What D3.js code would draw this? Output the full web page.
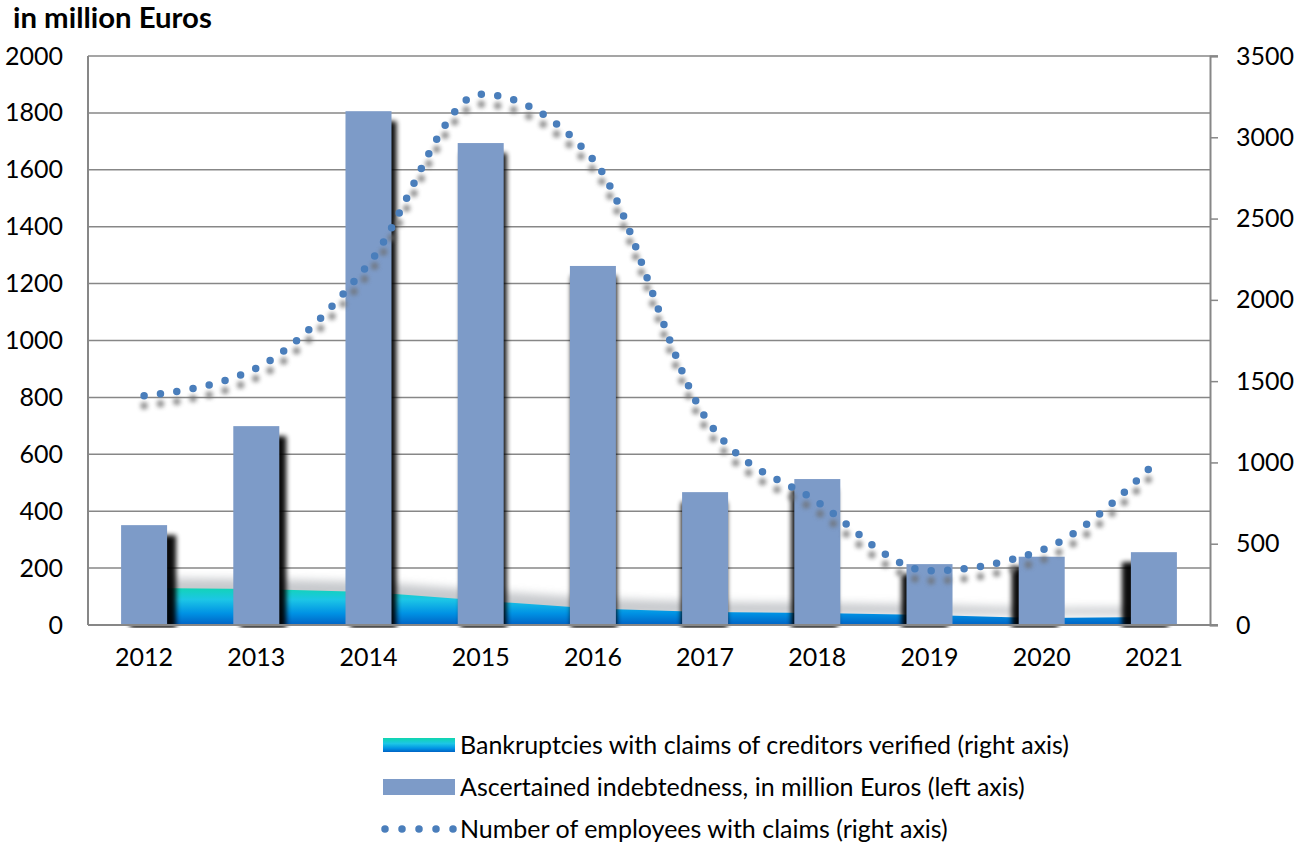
<!DOCTYPE html>
<html>
<head>
<meta charset="utf-8">
<script src="https://cdn.jsdelivr.net/npm/d3@7"></script>
<style>
  body { margin: 0; background: #fff; }
  text { font-family: Lato, "Open Sans", sans-serif; fill: #000; }
</style>
</head>
<body>
<div id="chart"></div>
<script>
// donnees du graphique
var years = ["2012", "2013", "2014", "2015", "2016", "2017", "2018", "2019", "2020", "2021"];
// dette constatee, en millions d'euros (axe gauche)
var indebtedness = [351, 699, 1806, 1694, 1262, 467, 513, 214, 240, 256];
// faillites avec creances verifiees (axe droit)
var bankruptcies = [228, 221, 203, 150, 101, 80, 74, 61, 43, 49];
// nombre de salaries avec creances (axe droit)
var employees = [1410, 1580, 2220, 3265, 2865, 1280, 758, 334, 461, 990];

var leftTicks = [0, 200, 400, 600, 800, 1000, 1200, 1400, 1600, 1800, 2000];
var rightTicks = [0, 500, 1000, 1500, 2000, 2500, 3000, 3500];

var legendLabels = [
  "Bankruptcies with claims of creditors verified (right axis)",
  "Ascertained indebtedness, in million Euros (left axis)",
  "Number of employees with claims (right axis)"
];

function draw(boxName)
{
  var width = 1304,
      height = 849;
  var left = 88, right = 1210, top = 56, bottom = 625;

  var svg = d3.select(boxName)
    .append("svg")
    .attr("width", width)
    .attr("height", height);

  var defs = svg.append("defs");

  // degrade de l'aire
  var grad = defs.append("linearGradient")
    .attr("id", "areaGrad")
    .attr("gradientUnits", "userSpaceOnUse")
    .attr("x1", 0).attr("x2", 0)
    .attr("y1", 586).attr("y2", bottom);
  grad.append("stop").attr("offset", "0%").attr("stop-color", "#10d6ae");
  grad.append("stop").attr("offset", "35%").attr("stop-color", "#1cc6e6");
  grad.append("stop").attr("offset", "70%").attr("stop-color", "#0092e4");
  grad.append("stop").attr("offset", "100%").attr("stop-color", "#0062c4");

  var lgGrad = defs.append("linearGradient")
    .attr("id", "legendGrad")
    .attr("x1", 0).attr("x2", 0).attr("y1", 0).attr("y2", 1);
  lgGrad.append("stop").attr("offset", "0%").attr("stop-color", "#10d6ae");
  lgGrad.append("stop").attr("offset", "40%").attr("stop-color", "#1cc6e6");
  lgGrad.append("stop").attr("offset", "75%").attr("stop-color", "#0092e4");
  lgGrad.append("stop").attr("offset", "100%").attr("stop-color", "#0062c4");

  defs.append("filter").attr("id", "blurBar")
    .attr("x", "-50%").attr("y", "-10%").attr("width", "200%").attr("height", "120%")
    .append("feGaussianBlur").attr("stdDeviation", 2.5);
  defs.append("filter").attr("id", "blurArea")
    .attr("x", "-10%").attr("y", "-50%").attr("width", "120%").attr("height", "200%")
    .append("feGaussianBlur").attr("stdDeviation", 4);
  defs.append("filter").attr("id", "blurLine")
    .attr("x", "-10%").attr("y", "-10%").attr("width", "120%").attr("height", "120%")
    .append("feGaussianBlur").attr("stdDeviation", 2);

  defs.append("clipPath").attr("id", "plotClip")
    .append("rect")
    .attr("x", left).attr("y", top)
    .attr("width", right - left).attr("height", bottom - top + 3);

  // echelles
  var x = d3.scaleBand()
    .domain(years)
    .range([left, right])
    .paddingInner(0.59)
    .paddingOuter(0.295);
  var cx = function(d) { return x(d) + x.bandwidth() / 2; };

  var yL = d3.scaleLinear().domain([0, 2000]).range([bottom, top]);
  var yR = d3.scaleLinear().domain([0, 3500]).range([bottom, top]);

  // lignes de grille
  svg.append("g")
    .selectAll("line")
    .data(leftTicks)
    .enter().append("line")
    .attr("x1", left)
    .attr("x2", function(d) { return d === 2000 ? right + 8 : right; })
    .attr("y1", function(d) { return yL(d); })
    .attr("y2", function(d) { return yL(d); })
    .attr("stroke", "#878787")
    .attr("stroke-width", 1.5);

  // aire des faillites
  var area = d3.area()
    .x(function(d, i) { return cx(years[i]); })
    .y0(bottom)
    .y1(function(d) { return yR(d); });

  var plot = svg.append("g").attr("clip-path", "url(#plotClip)");

  plot.append("path")
    .datum(bankruptcies)
    .attr("d", area)
    .attr("transform", "translate(8,-10)")
    .attr("fill", "#9a9ea4")
    .attr("opacity", 0.55)
    .attr("filter", "url(#blurArea)");

  plot.append("path")
    .datum(bankruptcies)
    .attr("d", area)
    .attr("fill", "url(#areaGrad)");

  // ombres des barres
  plot.append("g")
    .selectAll("rect")
    .data(indebtedness)
    .enter().append("rect")
    .attr("x", function(d, i) { return x(years[i]) + (4.5 - i) * 2; })
    .attr("y", function(d) { return yL(d) + 10; })
    .attr("width", x.bandwidth())
    .attr("height", function(d) { return bottom + 3 - yL(d) - 10; })
    .attr("fill", "#000")
    .attr("opacity", 0.95)
    .attr("filter", "url(#blurBar)");

  // barres
  svg.append("g")
    .selectAll("rect")
    .data(indebtedness)
    .enter().append("rect")
    .attr("x", function(d, i) { return x(years[i]); })
    .attr("y", function(d) { return yL(d); })
    .attr("width", x.bandwidth())
    .attr("height", function(d) { return bottom - yL(d); })
    .attr("fill", "#7d9bc8");

  // axes
  svg.append("line")
    .attr("x1", left).attr("x2", left)
    .attr("y1", top).attr("y2", bottom)
    .attr("stroke", "#878787").attr("stroke-width", 2);
  svg.append("line")
    .attr("x1", left).attr("x2", right + 8)
    .attr("y1", bottom).attr("y2", bottom)
    .attr("stroke", "#878787").attr("stroke-width", 2);

  var axisR = svg.append("g")
    .attr("transform", "translate(" + right + ",0)")
    .call(d3.axisRight(yR).tickValues(rightTicks).tickSize(8).tickPadding(18).tickFormat(d3.format("d")));
  axisR.select(".domain").attr("stroke", "#878787").attr("stroke-width", 2);
  axisR.selectAll(".tick line").attr("stroke", "#878787").attr("stroke-width", 1.5);
  axisR.selectAll("text").attr("font-size", 25).attr("font-family", "Lato").attr("fill", "#000");

  var axisL = svg.append("g")
    .attr("transform", "translate(" + left + ",0)")
    .call(d3.axisLeft(yL).tickValues(leftTicks).tickSize(0).tickPadding(25).tickFormat(d3.format("d")));
  axisL.select(".domain").remove();
  axisL.selectAll("text").attr("font-size", 25).attr("font-family", "Lato").attr("fill", "#000");

  var axisB = svg.append("g")
    .attr("transform", "translate(0," + bottom + ")")
    .call(d3.axisBottom(x).tickSize(0).tickPadding(23));
  axisB.select(".domain").remove();
  axisB.selectAll("text").attr("font-size", 25).attr("font-family", "Lato").attr("fill", "#000");

  // ligne pointillee des salaries
  var line = d3.line()
    .x(function(d, i) { return cx(years[i]); })
    .y(function(d) { return yR(d); })
    .curve(d3.curveMonotoneX);

  svg.append("path")
    .datum(employees)
    .attr("d", line)
    .attr("transform", "translate(0,10)")
    .attr("fill", "none")
    .attr("stroke", "#6e6e6e")
    .attr("stroke-width", 7.5)
    .attr("stroke-linecap", "round")
    .attr("stroke-dasharray", "0 16.5")
    .attr("opacity", 0.75)
    .attr("filter", "url(#blurLine)");

  svg.append("path")
    .datum(employees)
    .attr("d", line)
    .attr("fill", "none")
    .attr("stroke", "#4a7ebb")
    .attr("stroke-width", 7.5)
    .attr("stroke-linecap", "round")
    .attr("stroke-dasharray", "0 16.5");

  // titre de l'axe gauche
  var title = svg.append("text")
    .attr("x", 13)
    .attr("y", 28)
    .attr("font-family", "'Open Sans', Lato, sans-serif")
    .attr("font-size", 20)
    .attr("font-weight", "bold")
    .text("in million Euros");
  var tl = title.node().getComputedTextLength();
  title.attr("font-size", 20 * 199 / tl);

  // legende
  var lg = svg.append("g");
  var rows = [745, 787, 829];

  lg.append("rect")
    .attr("x", 383).attr("y", rows[0] - 7)
    .attr("width", 72).attr("height", 14)
    .attr("fill", "url(#legendGrad)");
  lg.append("rect")
    .attr("x", 383).attr("y", rows[1] - 8)
    .attr("width", 72).attr("height", 16)
    .attr("fill", "#7d9bc8");
  lg.append("line")
    .attr("x1", 385).attr("x2", 455)
    .attr("y1", rows[2]).attr("y2", rows[2])
    .attr("stroke", "#4a7ebb")
    .attr("stroke-width", 7.5)
    .attr("stroke-linecap", "round")
    .attr("stroke-dasharray", "0 17");

  lg.selectAll("text.lab")
    .data(legendLabels)
    .enter().append("text")
    .attr("class", "lab")
    .attr("x", 460)
    .attr("y", function(d, i) { return rows[i]; })
    .attr("dy", "0.35em")
    .attr("font-size", 25)
    .text(function(d) { return d; });
}

draw("#chart");
</script>
</body>
</html>
